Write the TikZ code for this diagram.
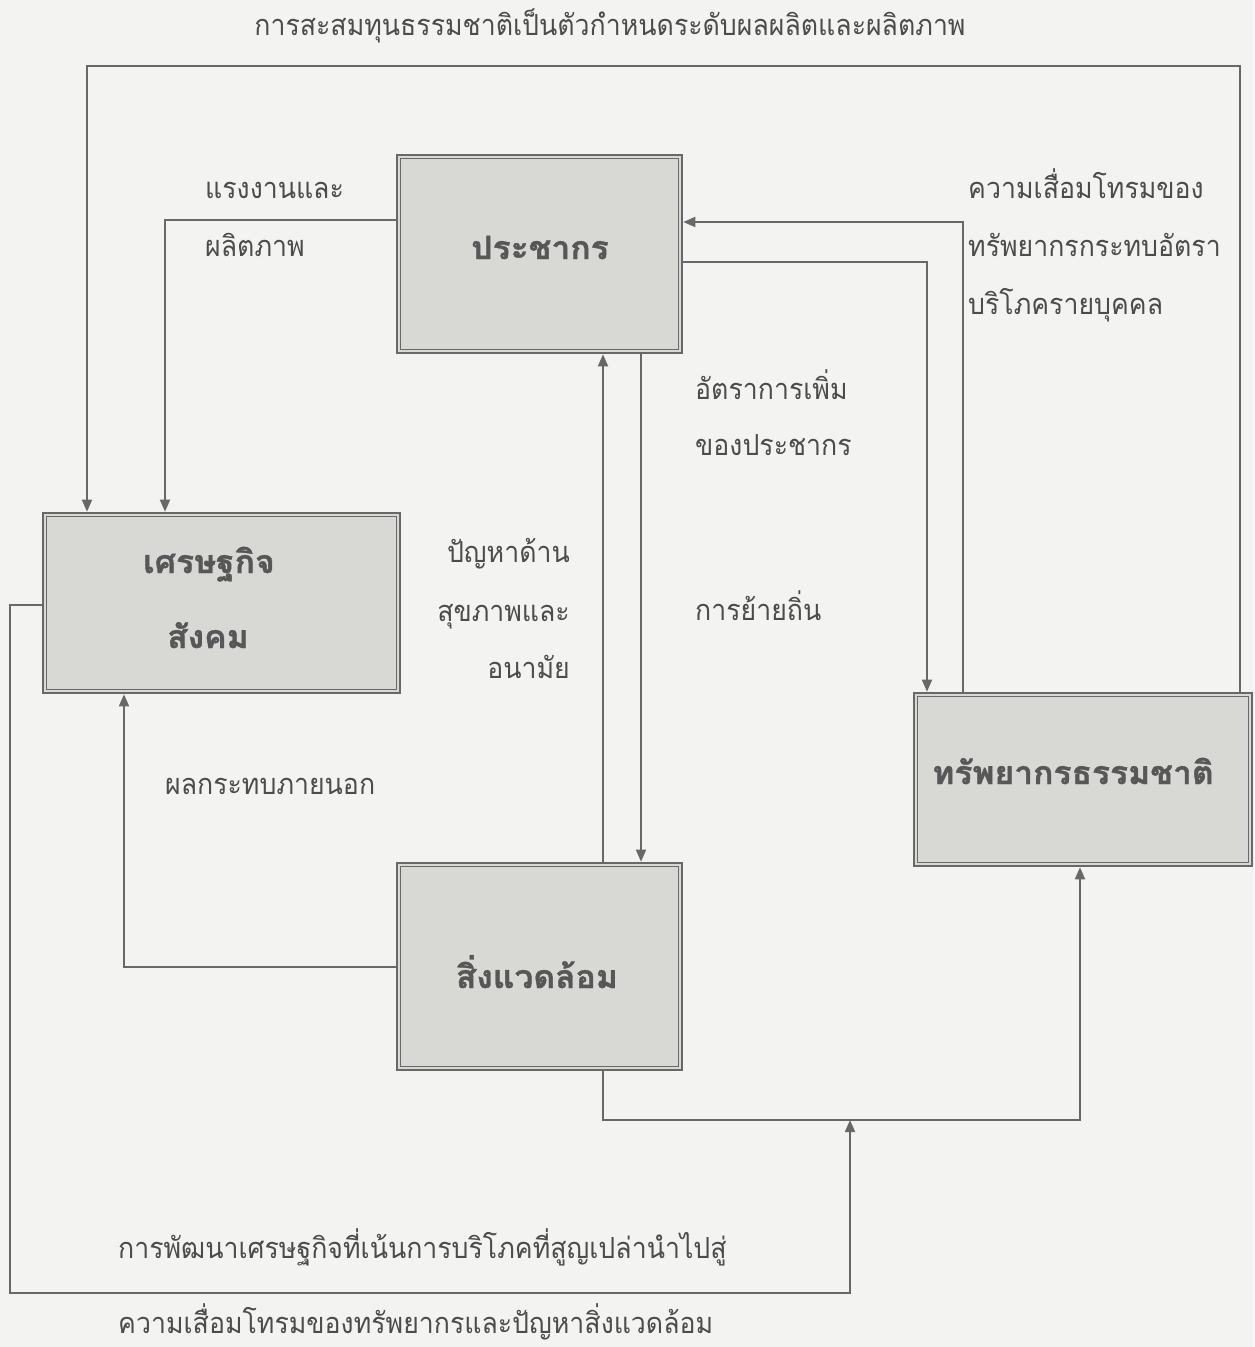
\documentclass[tikz,border=0pt]{standalone}
\usepackage{fontspec}
\newfontfamily\thai[Script=Thai,FakeStretch=0.92]{Loma}
\newfontfamily\thaibold[Script=Thai,FakeStretch=1.05,FakeBold=1.2]{Loma Bold}
\usetikzlibrary{arrows.meta}
\definecolor{bg}{HTML}{F3F3F1}
\definecolor{ln}{HTML}{686868}
\definecolor{bf}{HTML}{D8D8D5}
\definecolor{tx}{HTML}{4C4C4C}
\definecolor{btx}{HTML}{575757}
\begin{document}
\begin{tikzpicture}[x=1pt,y=-1pt,
  box/.style={draw=ln, line width=2.6pt, fill=bf, inner sep=0pt},
  innerbox/.style={draw=ln, line width=0.9pt},
  conn/.style={draw=ln, line width=1.8pt},
  arr/.style={conn, -{Triangle[length=12pt,width=10pt]}},
  lbl/.style={font=\thai\fontsize{29}{56}\selectfont, text=tx, inner sep=0pt, anchor=base west},
  lblr/.style={lbl, anchor=base east},
  boxlbl/.style={font=\thaibold\fontsize{32}{75}\selectfont, text=btx, inner sep=0pt, anchor=base},
]
\useasboundingbox (0,0) rectangle (1254,1347);
\fill[bg] (0,0) rectangle (1254,1347);

% boxes
\node[box, minimum width=285pt, minimum height=198pt] (P) at (539.5,254) {};
\node[box, minimum width=357pt, minimum height=180pt] (E) at (221.5,603) {};
\node[box, minimum width=285pt, minimum height=207pt] (V) at (539.5,966.5) {};
\node[box, minimum width=338pt, minimum height=173pt] (R) at (1083,779.5) {};
\foreach \n in {P,E,V,R}
  \draw[innerbox] ([shift={(5pt,-5pt)}]\n.north west) rectangle ([shift={(-5pt,5pt)}]\n.south east);

% box texts
\node[boxlbl] (Pt) at (540,259) {ประชากร};
\node[boxlbl] (Et1) at (209,573) {เศรษฐกิจ};
\node[boxlbl] (Et2) at (208,648) {สังคม};
\node[boxlbl] (Vt) at (537,988) {สิ่งแวดล้อม};
\node[boxlbl] (Rt) at (1073,784) {ทรัพยากรธรรมชาติ};

% bend coordinates
\coordinate (c1) at (1240,66);
\coordinate (c1b) at (87,66);
\coordinate (c2) at (165,220);
\coordinate (c3) at (963,222);
\coordinate (c4) at (927,262);
\coordinate (c5) at (603,0);
\coordinate (c6) at (641,0);
\coordinate (c7) at (124,967);
\coordinate (c8a) at (603,1120);
\coordinate (c8b) at (1080,1120);
\coordinate (c9a) at (10,605);
\coordinate (c9b) at (10,1293);
\coordinate (c9c) at (850,1293);
\coordinate (j) at (850,1120);

% connectors
\draw[arr] (R.north -| c1) -- (c1) -- (c1b) -- (E.north -| c1b);
\draw[arr] (P.west |- c2) -- (c2) -- (E.north -| c2);
\draw[arr] (R.north -| c3) -- (c3) -- (P.east |- c3);
\draw[arr] (P.east |- c4) -- (c4) -- (R.north -| c4);
\draw[arr] (V.north -| c5) -- (P.south -| c5);
\draw[arr] (P.south -| c6) -- (V.north -| c6);
\draw[arr] (V.west |- c7) -- (c7) -- (E.south -| c7);
\draw[arr] (V.south -| c8a) -- (c8a) -- (c8b) -- (R.south -| c8b);
\draw[arr] (E.west |- c9a) -- (c9a) -- (c9b) -- (c9c) -- (j);

% labels
\node[lbl, anchor=base] (title) at (610,35) {การสะสมทุนธรรมชาติเป็นตัวกำหนดระดับผลผลิตและผลิตภาพ};
\node[lbl] (l1a) at (205,198) {แรงงานและ};
\node[lbl] (l1b) at (205,256) {ผลิตภาพ};
\node[lbl] (l2a) at (968,198) {ความเสื่อมโทรมของ};
\node[lbl] (l2b) at (968,256) {ทรัพยากรกระทบอัตรา};
\node[lbl] (l2c) at (968,314) {บริโภครายบุคคล};
\node[lbl] (l3a) at (695,399) {อัตราการเพิ่ม};
\node[lbl] (l3b) at (695,455) {ของประชากร};
\node[lbl] (l4) at (695,620) {การย้ายถิ่น};
\node[lblr] (l5a) at (570,562) {ปัญหาด้าน};
\node[lblr] (l5b) at (570,621) {สุขภาพและ};
\node[lblr] (l5c) at (570,678) {อนามัย};
\node[lbl] (l6) at (165,794) {ผลกระทบภายนอก};
\node[lbl] (l7a) at (118,1258) {การพัฒนาเศรษฐกิจที่เน้นการบริโภคที่สูญเปล่านำไปสู่};
\node[lbl] (l7b) at (118,1333) {ความเสื่อมโทรมของทรัพยากรและปัญหาสิ่งแวดล้อม};
\end{tikzpicture}
\end{document}
